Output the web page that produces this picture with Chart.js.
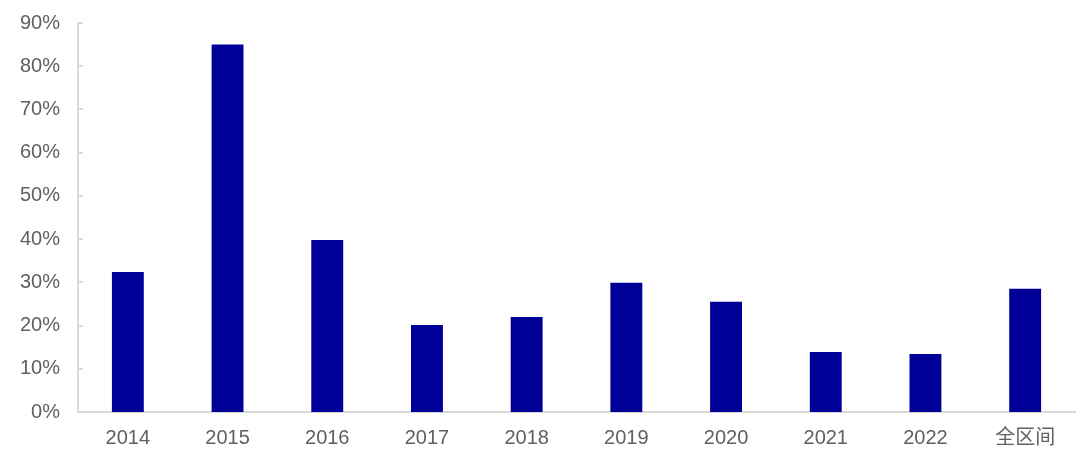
<!DOCTYPE html>
<html>
<head>
<meta charset="utf-8">
<script src="https://cdn.jsdelivr.net/npm/chart.js@4"></script>
<style>
  html, body { margin: 0; padding: 0; background: #fff; }
  #wrap { width: 1092px; height: 456px; }
</style>
</head>
<body>
<div id="wrap"><canvas id="barChart"></canvas></div>
<script>
// data
const categories = ["2014", "2015", "2016", "2017", "2018", "2019", "2020", "2021", "2022", "全区间"];
const shareValues = [32.4, 85.0, 39.8, 20.1, 22.0, 29.9, 25.5, 13.9, 13.4, 28.5];
const yTicks = [0, 10, 20, 30, 40, 50, 60, 70, 80, 90];

const axisGrey = "#d9d9d9";
const textGrey = "#606060";

// small inward tick marks on the y axis
const innerTicks = {
    id: "innerTicks",
    afterDraw(chart) {
        const y = chart.scales.y;
        const c = chart.ctx;
        c.save();
        c.strokeStyle = axisGrey;
        c.lineWidth = 2;
        yTicks.forEach(v => {
            const py = Math.round(y.getPixelForValue(v));
            c.beginPath();
            c.moveTo(y.right, py);
            c.lineTo(y.right + 5, py);
            c.stroke();
        });
        c.restore();
    }
};

const ctx = document.getElementById("barChart").getContext("2d");

new Chart(ctx, {
    type: "bar",
    data: {
        labels: categories,
        datasets: [{
            data: shareValues,
            backgroundColor: "#000099",
            categoryPercentage: 1,
            barPercentage: 0.32
        }]
    },
    options: {
        responsive: true,
        maintainAspectRatio: false,
        animation: false,
        layout: { padding: { top: 23, right: 17, bottom: 0, left: 0 } },
        plugins: {
            legend: { display: false },
            tooltip: { enabled: false }
        },
        scales: {
            x: {
                grid: { display: false, drawTicks: false },
                border: { color: axisGrey, width: 2 },
                ticks: {
                    color: textGrey,
                    padding: 14,
                    font: { family: "'Liberation Sans', 'Noto Sans CJK SC', sans-serif", size: 20 }
                },
                afterFit: s => { s.height = 44; s.paddingLeft = 0; s.paddingRight = 0; }
            },
            y: {
                min: 0,
                max: 90,
                afterBuildTicks: s => { s.ticks = yTicks.map(v => ({ value: v })); },
                grid: { display: false, drawTicks: false },
                border: { color: axisGrey, width: 2 },
                ticks: {
                    color: textGrey,
                    padding: 18,
                    font: { family: "'Liberation Sans', sans-serif", size: 20 },
                    callback: v => v + "%"
                },
                afterFit: s => { s.width = 78; s.paddingTop = 0; s.paddingBottom = 0; }
            }
        }
    },
    plugins: [innerTicks]
});
</script>
</body>
</html>
